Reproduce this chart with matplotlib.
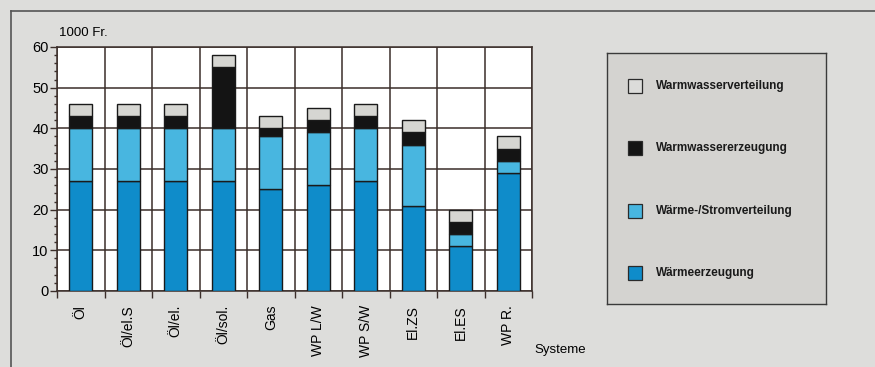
import matplotlib.pyplot as plt
import numpy as np
from matplotlib.patches import Rectangle
from matplotlib.lines import Line2D

plt.rcParams['font.family'] = ['Liberation Sans', 'DejaVu Sans']

# Kosten je System (1000 Fr.), gestapelt von unten nach oben
systeme = ['Öl', 'Öl/el.S', 'Öl/el.', 'Öl/sol.', 'Gas', 'WP L/W', 'WP S/W', 'El.ZS', 'El.ES', 'WP R.']
waermeerzeugung = [27, 27, 27, 27, 25, 26, 27, 21, 11, 29]
waermeverteilung = [13, 13, 13, 13, 13, 13, 13, 15, 3, 3]
ww_erzeugung = [3, 3, 3, 15, 2, 3, 3, 3, 3, 3]
ww_verteilung = [3, 3, 3, 3, 3, 3, 3, 3, 3, 3]

namen = ['Wärmeerzeugung', 'Wärme-/Stromverteilung', 'Warmwassererzeugung', 'Warmwasserverteilung']
farben = ['#0f8cca', '#48b6e0', '#141414', '#d6d6d2']

paper = '#dddddb'
linie = '#3b2e2a'

fig = plt.figure(figsize=(8.75, 3.67), dpi=100)
fig.patch.set_facecolor(paper)

# Rahmen oben und links
fig.add_artist(Line2D([11 / 875, 11 / 875], [0, 1 - 11 / 367], color='#555555', lw=1.2))
fig.add_artist(Line2D([11 / 875, 1], [1 - 11 / 367, 1 - 11 / 367], color='#555555', lw=1.2))

ax = fig.add_axes([57 / 875, 76 / 367, 475 / 875, 244 / 367])
ax.set_facecolor('white')

x = np.arange(len(systeme))
bottom = np.zeros(len(systeme))
for werte, farbe in zip([waermeerzeugung, waermeverteilung, ww_erzeugung, ww_verteilung], farben):
    ax.bar(x, werte, bottom=bottom, width=0.49, color=farbe, edgecolor='#1a1a1a',
           linewidth=1.0, zorder=3)
    bottom += np.array(werte)

ax.set_xlim(-0.5, len(systeme) - 0.5)
ax.set_ylim(0, 60)

# y-Achse
ax.set_yticks(np.arange(0, 61, 10))
ax.set_yticks(np.arange(0, 61, 2), minor=True)
ax.tick_params(axis='y', which='major', length=5, width=1, color=linie, labelsize=10.5, pad=1)
ax.tick_params(axis='y', which='minor', length=2.5, width=1, color=linie)

# x-Achse: Trennlinien zwischen den Systemen, Beschriftung in der Mitte
ax.set_xticks(np.arange(-0.5, len(systeme)))
ax.set_xticklabels([])
ax.set_xticks(x, minor=True)
ax.set_xticklabels(systeme, minor=True, rotation=90, fontsize=10)
ax.tick_params(axis='x', which='major', length=5, width=1, color=linie)
ax.tick_params(axis='x', which='minor', length=0, pad=10)

ax.grid(True, which='major', color=linie, linewidth=1.1, zorder=0)
ax.set_axisbelow(True)
for s in ax.spines.values():
    s.set_color(linie)
    s.set_linewidth(1.1)

fig.text(59 / 875, 1 - 33 / 367, '1000 Fr.', fontsize=9.5, va='center', ha='left')
fig.text(534 / 875, 1 - 350 / 367, 'Systeme', fontsize=9.5, va='center', ha='left')

# Legende als eigener Kasten
lg = fig.add_axes([607 / 875, 63 / 367, 219 / 875, 251 / 367])
lg.set_facecolor('#d4d3d0')
lg.set_xlim(0, 219)
lg.set_ylim(251, 0)
lg.set_xticks([])
lg.set_yticks([])
for s in lg.spines.values():
    s.set_color('#3a3a3a')
    s.set_linewidth(1.0)

zeilen = [33, 95, 158, 220]
for yy, name, farbe in zip(zeilen, namen[::-1], farben[::-1]):
    fc = '#dcdcda' if name == 'Warmwasserverteilung' else farbe
    lg.add_patch(Rectangle((21, yy - 7), 14, 14, facecolor=fc, edgecolor='#2a2a2a', lw=0.9))
    lg.text(49, yy, name, fontsize=8.5, fontweight='bold', va='center', ha='left', color='#1a1a1a')

fig.savefig('out.png', dpi=100, facecolor=fig.get_facecolor())
